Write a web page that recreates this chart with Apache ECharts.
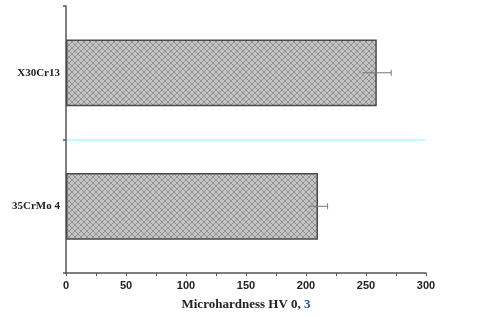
<!DOCTYPE html>
<html>
<head>
<meta charset="utf-8">
<script src="https://cdn.jsdelivr.net/npm/echarts@6/dist/echarts.min.js"></script>
<style>html,body{margin:0;padding:0;background:#fff}#c{width:480px;height:317px}</style>
</head>
<body>
<div id="c"></div>
<script>
const categories = ['X30Cr13', '35CrMo 4'];
const values = [259, 210];
const errors = [12, 8];
const xTicks = [0, 50, 100, 150, 200, 250, 300];

// crosshatch pattern
const pc = document.createElement('canvas');
pc.width = 6; pc.height = 6;
const g = pc.getContext('2d');
g.fillStyle = '#c3c3c3';
g.fillRect(0, 0, 6, 6);
g.strokeStyle = '#8c8c8c';
g.lineWidth = 0.9;
g.beginPath();
g.moveTo(0, 0); g.lineTo(6, 6);
g.moveTo(6, 0); g.lineTo(0, 6);
g.stroke();

const chart = echarts.init(document.getElementById('c'));
const errData = values.map((v, i) => [v - errors[i], v + errors[i], i]);

chart.setOption({
  animation: false,
  grid: { left: 66, right: 54, top: 6, bottom: 44, containLabel: false },
  xAxis: {
    type: 'value',
    min: xTicks[0], max: xTicks[xTicks.length - 1], interval: 50,
    axisLine: { show: true, onZero: false, lineStyle: { color: '#555', width: 1.5 } },
    axisTick: { show: true, length: 3, lineStyle: { color: '#555' } },
    minorTick: { show: true, splitNumber: 2, length: 3, lineStyle: { color: '#555' } },
    splitLine: { show: false },
    axisLabel: { fontFamily: 'Liberation Sans', fontWeight: 'bold', fontSize: 11, color: '#222', margin: 7 },
    name: '{a|Microhardness HV 0,}{b| 3}',
    nameLocation: 'middle',
    nameGap: 25,
    nameTextStyle: {
      rich: {
        a: { fontFamily: 'Liberation Serif', fontWeight: 'bold', fontSize: 13, color: '#222' },
        b: { fontFamily: 'Liberation Serif', fontWeight: 'bold', fontSize: 13, color: '#1f4fa0' }
      }
    }
  },
  yAxis: {
    type: 'category',
    data: categories,
    inverse: true,
    axisLine: { show: true, lineStyle: { color: '#555', width: 1.5 } },
    axisTick: { show: true, length: 3, lineStyle: { color: '#555', width: 1.5 } },
    splitLine: { show: true, lineStyle: { color: ['rgba(0,0,0,0)', '#aaffff', 'rgba(0,0,0,0)'], width: 1.5 } },
    axisLabel: { fontFamily: 'Liberation Serif', fontWeight: 'bold', fontSize: 11, color: '#222', margin: 6 }
  },
  series: [
    {
      type: 'bar',
      data: values,
      barWidth: '50%',
      itemStyle: { color: { image: pc, repeat: 'repeat' }, borderColor: '#4a4a4a', borderWidth: 1.5 },
      z: 2
    },
    {
      type: 'custom',
      data: errData,
      z: 5,
      renderItem: function (params, api) {
        const lo = api.coord([api.value(0), api.value(2)]);
        const hi = api.coord([api.value(1), api.value(2)]);
        const h = 3;
        return {
          type: 'group',
          children: [
            { type: 'line', shape: { x1: lo[0], y1: lo[1], x2: hi[0], y2: hi[1] }, style: { stroke: '#777', lineWidth: 1 } },
            { type: 'line', shape: { x1: hi[0], y1: hi[1] - h, x2: hi[0], y2: hi[1] + h }, style: { stroke: '#777', lineWidth: 1 } }
          ]
        };
      }
    }
  ]
});
</script>
</body>
</html>
